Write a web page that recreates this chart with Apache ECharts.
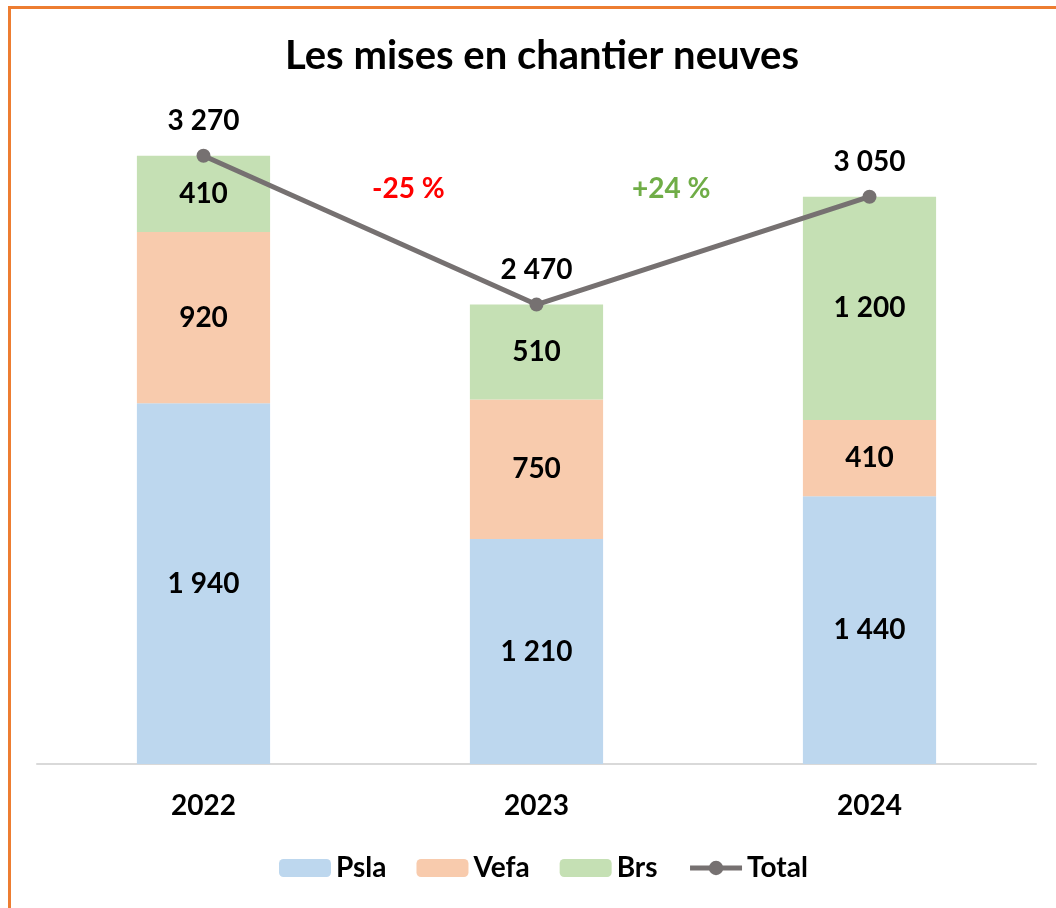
<!DOCTYPE html>
<html>

<head>
    <meta charset="utf-8">
    <title>Les mises en chantier neuves</title>
    <style>
        html, body { margin: 0; padding: 0; background: #fff; }
        .frame {
            position: absolute; left: 8px; top: 6px; width: 1060px; height: 920px;
            border-left: 3px solid #ED7D31; border-top: 3px solid #ED7D31;
        }
        #main { position: absolute; left: 0; top: 0; width: 1056px; height: 908px; }
    </style>
</head>

<body>
    <div class="frame"></div>
    <div id="main"></div>
    <script type="text/javascript" src="https://cdn.jsdelivr.net/npm/echarts@6/dist/echarts.min.js"></script>
    <script type="text/javascript">
    // données
    var years = ['2022', '2023', '2024'];
    var psla = [1940, 1210, 1440];
    var vefa = [920, 750, 410];
    var brs = [410, 510, 1200];
    var total = [3270, 2470, 3050];

    var font = 'Lato, "Open Sans", sans-serif';

    // "1 940" : séparateur de milliers en espace
    function fmt(v) {
        return String(v).replace(/\B(?=(\d{3})+(?!\d))/g, ' ');
    }

    var barLabel = {
        show: true,
        position: 'inside',
        color: '#000',
        fontWeight: 'bold',
        fontSize: 28,
        fontFamily: font,
        formatter: function (p) { return fmt(p.value); }
    };

    var myChart = echarts.init(document.getElementById('main'));
    var option = {
        animation: false,
        title: {
            text: 'Les mises en chantier neuves',
            left: 280,
            top: 31,
            textStyle: { fontSize: 40, fontWeight: 'bold', color: '#000', fontFamily: font }
        },
        legend: {
            bottom: 21,
            left: 274,
            itemWidth: 52,
            itemHeight: 18,
            itemGap: 30,
            textStyle: { fontSize: 28, fontWeight: 'bold', color: '#000', fontFamily: font },
            data: ['Psla', 'Vefa', 'Brs', {
                name: 'Total',
                lineStyle: { width: 5 }
            }]
        },
        grid: { left: 37, right: 20, top: 20, bottom: 144 },
        xAxis: {
            type: 'category',
            data: years,
            axisTick: { show: false },
            axisLine: { lineStyle: { color: '#D9D9D9', width: 2 } },
            axisLabel: { margin: 28, fontSize: 28, fontWeight: 'bold', color: '#000', fontFamily: font }
        },
        yAxis: {
            type: 'value',
            min: 0,
            max: 4000,
            show: false,
            splitLine: { show: false }
        },
        series: [
            {
                name: 'Psla', type: 'bar', stack: 'a', barWidth: '40%',
                itemStyle: { color: '#BDD7EE' }, label: barLabel, data: psla
            },
            {
                name: 'Vefa', type: 'bar', stack: 'a',
                itemStyle: { color: '#F8CBAD' }, label: barLabel, data: vefa
            },
            {
                name: 'Brs', type: 'bar', stack: 'a',
                itemStyle: { color: '#C5E0B4' }, label: barLabel, data: brs
            },
            {
                name: 'Total', type: 'line',
                symbol: 'circle', symbolSize: 14,
                lineStyle: { color: '#767171', width: 5 },
                itemStyle: { color: '#767171' },
                label: {
                    show: true, position: 'top', distance: 14,
                    color: '#000', fontWeight: 'bold', fontSize: 28, fontFamily: font,
                    formatter: function (p) { return fmt(p.value); }
                },
                z: 5,
                data: total
            }
        ],
        // évolutions annuelles
        graphic: [
            {
                type: 'text', left: 372, top: 175,
                style: { text: '-25 %', fill: '#FF0000', font: 'bold 28px ' + font }
            },
            {
                type: 'text', left: 632, top: 175,
                style: { text: '+24 %', fill: '#70AD47', font: 'bold 28px ' + font }
            }
        ]
    };

    myChart.setOption(option);
    </script>
</body>

</html>
